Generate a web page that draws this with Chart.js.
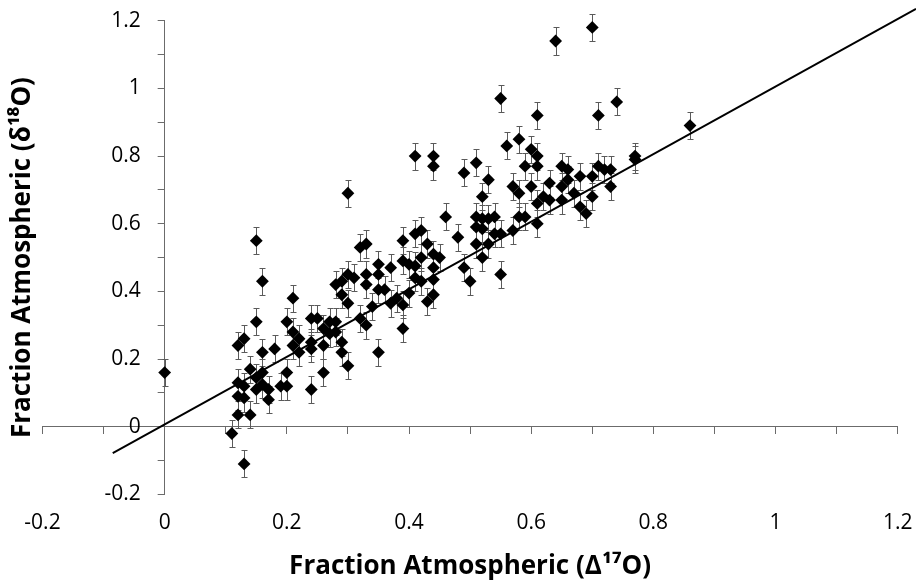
<!DOCTYPE html>
<html>
<head>
<meta charset="utf-8">
<script src="https://cdn.jsdelivr.net/npm/chart.js@4.4.1/dist/chart.umd.min.js"></script>
<style>
  html, body { margin: 0; padding: 0; background: #ffffff; }
  #wrap { width: 916px; height: 582px; }
</style>
</head>
<body>
<div id="wrap"><canvas id="c" width="916" height="582"></canvas></div>
<script>
// Fraction atmospheric from Δ17O (x) and from δ18O (y)
const xVals = [
  0.00, 0.11, 0.12, 0.12, 0.12, 0.12, 0.13, 0.13, 0.13, 0.13,
  0.14, 0.14, 0.15, 0.15, 0.15, 0.15, 0.16, 0.16, 0.16, 0.16,
  0.17, 0.17, 0.18, 0.19, 0.20, 0.20, 0.20, 0.21, 0.21, 0.21,
  0.22, 0.22, 0.24, 0.24, 0.24, 0.24, 0.25, 0.26, 0.26, 0.26,
  0.27, 0.27, 0.28, 0.28, 0.28, 0.29, 0.29, 0.29, 0.29, 0.30,
  0.30, 0.30, 0.30, 0.31, 0.32, 0.32, 0.33, 0.33, 0.33, 0.33,
  0.34, 0.35, 0.35, 0.35, 0.35, 0.36, 0.37, 0.37, 0.38, 0.39,
  0.39, 0.39, 0.39, 0.40, 0.40, 0.41, 0.41, 0.41, 0.41, 0.42,
  0.42, 0.42, 0.43, 0.43, 0.44, 0.44, 0.44, 0.44, 0.44, 0.44,
  0.45, 0.46, 0.48, 0.49, 0.49, 0.50, 0.51, 0.51, 0.51, 0.51,
  0.52, 0.52, 0.52, 0.52, 0.53, 0.53, 0.53, 0.54, 0.54, 0.55,
  0.55, 0.55, 0.56, 0.57, 0.57, 0.58, 0.58, 0.58, 0.59, 0.59,
  0.60, 0.60, 0.61, 0.61, 0.61, 0.61, 0.61, 0.62, 0.63, 0.63,
  0.64, 0.65, 0.65, 0.65, 0.66, 0.66, 0.67, 0.68, 0.68, 0.69,
  0.70, 0.70, 0.70, 0.71, 0.71, 0.72, 0.73, 0.73, 0.74, 0.77,
  0.77, 0.86
];
const yVals = [
  0.16, -0.02, 0.24, 0.13, 0.09, 0.035, 0.26, 0.12, 0.085, -0.11,
  0.17, 0.035, 0.55, 0.31, 0.145, 0.11, 0.43, 0.22, 0.16, 0.125,
  0.11, 0.08, 0.23, 0.12, 0.31, 0.16, 0.12, 0.38, 0.28, 0.24,
  0.26, 0.22, 0.32, 0.25, 0.23, 0.11, 0.32, 0.29, 0.24, 0.16,
  0.31, 0.275, 0.31, 0.28, 0.42, 0.43, 0.39, 0.25, 0.22, 0.69,
  0.45, 0.365, 0.18, 0.44, 0.53, 0.32, 0.54, 0.45, 0.42, 0.30,
  0.355, 0.48, 0.45, 0.405, 0.22, 0.405, 0.47, 0.365, 0.38, 0.55,
  0.49, 0.36, 0.29, 0.48, 0.395, 0.80, 0.57, 0.475, 0.44, 0.58,
  0.50, 0.43, 0.54, 0.37, 0.80, 0.77, 0.51, 0.47, 0.435, 0.39,
  0.50, 0.62, 0.56, 0.75, 0.47, 0.43, 0.78, 0.62, 0.59, 0.54,
  0.68, 0.615, 0.585, 0.50, 0.73, 0.615, 0.54, 0.62, 0.57, 0.97,
  0.57, 0.45, 0.83, 0.71, 0.58, 0.85, 0.69, 0.62, 0.77, 0.62,
  0.82, 0.71, 0.92, 0.80, 0.77, 0.66, 0.60, 0.68, 0.72, 0.67,
  1.14, 0.77, 0.71, 0.67, 0.76, 0.73, 0.69, 0.74, 0.65, 0.63,
  1.18, 0.74, 0.68, 0.92, 0.77, 0.76, 0.76, 0.71, 0.96, 0.80,
  0.79, 0.89
];
const errorBar = 0.04;          // ± uncertainty on the y value
const fitX = [-0.085, 1.23];    // regression line end points
const fitY = [-0.078, 1.235];
const xTickLabels = ['-0.2', '0', '0.2', '0.4', '0.6', '0.8', '1', '1.2'];
const yTickLabels = ['-0.2', '0', '0.2', '0.4', '0.6', '0.8', '1', '1.2'];
const xTitle = 'Fraction Atmospheric (\u0394\u00B9\u2077O)';
const yTitle = 'Fraction Atmospheric (\u03B4\u00B9\u2078O)';

const FONT = "'Open Sans', 'Liberation Sans', sans-serif";
const AXIS_GREY = '#6b6b6b';

const points = xVals.map((x, i) => ({ x: x, y: yVals[i] }));
const fitPts = fitX.map((x, i) => ({ x: x, y: fitY[i] }));

function fmt(v) {
  const s = Number(v.toFixed(1));
  return (Object.is(s, -0) ? 0 : s).toString();
}

const errorBarPlugin = {
  id: 'errorBars',
  beforeDatasetsDraw(chart) {
    const ctx = chart.ctx;
    const xs = chart.scales.x, ys = chart.scales.y;
    ctx.save();
    ctx.strokeStyle = '#5a5a5a';
    ctx.lineWidth = 1;
    ctx.beginPath();
    for (let i = 0; i < xVals.length; i++) {
      const px = Math.round(xs.getPixelForValue(xVals[i])) + 0.5;
      const t = Math.round(ys.getPixelForValue(yVals[i] + errorBar)) + 0.5;
      const b = Math.round(ys.getPixelForValue(yVals[i] - errorBar)) + 0.5;
      ctx.moveTo(px, t); ctx.lineTo(px, b);
      ctx.moveTo(px - 3, t); ctx.lineTo(px + 3, t);
      ctx.moveTo(px - 3, b); ctx.lineTo(px + 3, b);
    }
    ctx.stroke();
    ctx.restore();
  }
};

// put the labelled y axis on the x = 0 line
const yAxisAtZero = {
  id: 'yAxisAtZero',
  afterLayout(chart) {
    const ys = chart.scales.y;
    const px = chart.scales.x.getPixelForValue(0);
    ys.left = 0;
    ys.right = px;
  }
};

new Chart(document.getElementById('c'), {
  data: {
    datasets: [
      {
        type: 'scatter',
        data: points,
        xAxisID: 'x', yAxisID: 'y',
        pointStyle: 'rectRot',
        pointRadius: 6.4,
        pointBackgroundColor: '#000000',
        pointBorderWidth: 0,
        pointBorderColor: '#000000',
        order: 1
      },
      {
        type: 'line',
        data: fitPts,
        xAxisID: 'x', yAxisID: 'y',
        borderColor: '#000000',
        borderWidth: 2,
        pointRadius: 0,
        fill: false,
        clip: false,
        order: 2
      }
    ]
  },
  options: {
    responsive: false,
    animation: false,
    events: [],
    layout: { padding: { left: 0, right: 18.3, top: 20.7, bottom: 0 } },
    plugins: {
      legend: { display: false },
      tooltip: { enabled: false },
      title: {
        display: true,
        position: 'left',
        fullSize: false,
        text: yTitle,
        color: '#000000',
        font: { family: FONT, size: 26, weight: 'bold' },
        padding: { top: 6.9, bottom: 4.4 }
      }
    },
    scales: {
      x: {
        type: 'linear',
        position: 'bottom',
        min: -0.2, max: 1.2,
        grid: { display: false, drawTicks: true, tickLength: 16.5 },
        border: { display: false },
        ticks: {
          stepSize: 0.2,
          autoSkip: false,
          maxRotation: 0,
          padding: 0,
          color: '#000000',
          font: { family: FONT, size: 21 },
          callback: (v) => {
            const s = fmt(v);
            return xTickLabels.includes(s) ? s : '';
          }
        },
        title: {
          display: true,
          text: xTitle,
          color: '#000000',
          font: { family: FONT, size: 26, weight: 'bold' },
          padding: { top: 14.7, bottom: 0 }
        }
      },
      xz: {
        type: 'linear',
        position: { y: 0 },
        min: -0.2, max: 1.2,
        grid: { drawOnChartArea: false, drawTicks: true, tickLength: 7, color: AXIS_GREY, lineWidth: 1 },
        border: { display: true, color: AXIS_GREY, width: 1 },
        ticks: { stepSize: 0.1, display: false, autoSkip: false }
      },
      y: {
        type: 'linear',
        position: 'left',
        min: -0.2, max: 1.2,
        afterFit: (s) => { s.width = 0; },
        grid: { drawOnChartArea: false, drawTicks: true, tickLength: 7, color: AXIS_GREY, lineWidth: 1 },
        border: { display: true, color: AXIS_GREY, width: 1 },
        ticks: {
          stepSize: 0.1,
          autoSkip: false,
          padding: 17,
          color: '#000000',
          font: { family: FONT, size: 21, lineHeight: 0.3 },
          callback: (v) => {
            const s = fmt(v);
            return yTickLabels.includes(s) && Math.round(v * 10) % 2 === 0 ? s : '';
          }
        }
      }
    }
  },
  plugins: [errorBarPlugin, yAxisAtZero]
});
</script>
</body>
</html>
